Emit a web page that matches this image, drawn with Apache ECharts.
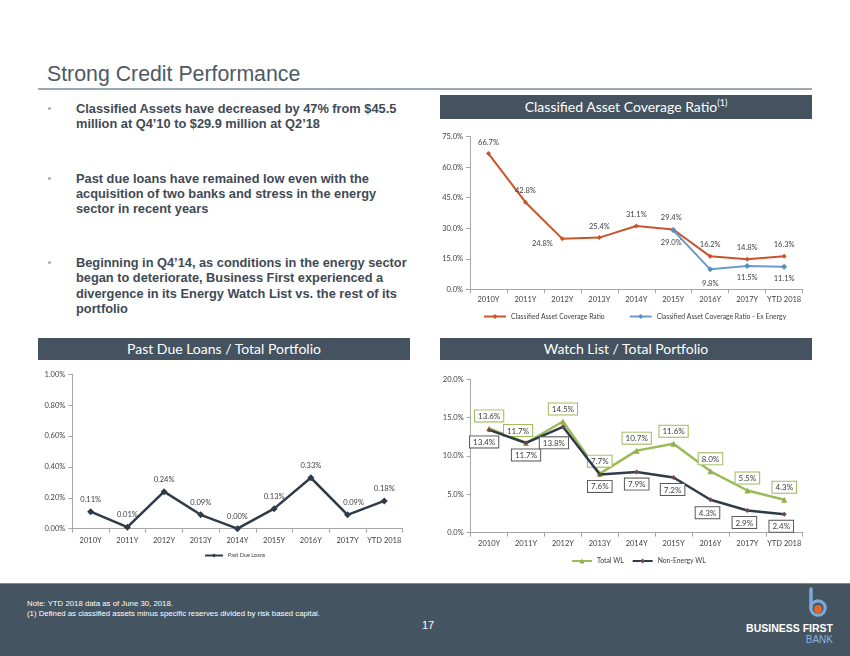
<!DOCTYPE html>
<html><head><meta charset="utf-8">
<script src="https://cdn.jsdelivr.net/npm/echarts@6/dist/echarts.min.js"></script>
<style>
html,body{margin:0;padding:0;width:850px;height:656px;overflow:hidden;background:#fff;font-family:'Liberation Sans',Arial,sans-serif}
.abs{position:absolute}
#title{left:47px;top:64px;font-size:21.3px;line-height:21px;color:#4d5a66;white-space:nowrap}
#rule{left:38px;top:88px;width:774px;height:2px;background:#98a9b6}
.bar{background:#44535f;color:#fff;font-family:Lato,sans-serif;font-size:14px;text-align:center;white-space:nowrap}
.bar sup{font-size:9px;vertical-align:6px;line-height:0}
.bl{font-weight:bold;font-size:12.8px;color:#3f4a55;line-height:15.3px;left:76px;white-space:nowrap}
.dot{left:48px;width:3px;height:3px;border-radius:50%;background:#a3aeb8}
#footer{left:0;top:583px;width:850px;height:73px;background:#455461;border-top:1px solid #7d8c98}
.note{left:27px;color:#fff;font-size:7.8px;line-height:9px;white-space:nowrap}
#page{left:418px;top:618px;width:20px;text-align:center;color:#fff;font-size:11px;line-height:14px}
#chart{left:0;top:0;width:850px;height:656px}
</style></head>
<body>
<div id="title" class="abs">Strong Credit Performance</div>
<div id="rule" class="abs"></div>

<div class="abs dot" style="top:106.5px"></div>
<div class="abs bl" style="top:100.8px">Classified Assets have decreased by 47% from $45.5<br>million at Q4’10 to $29.9 million at Q2’18</div>
<div class="abs dot" style="top:176.5px"></div>
<div class="abs bl" style="top:170.8px">Past due loans have remained low even with the<br>acquisition of two banks and stress in the energy<br>sector in recent years</div>
<div class="abs dot" style="top:261px"></div>
<div class="abs bl" style="top:255.2px">Beginning in Q4’14, as conditions in the energy sector<br>began to deteriorate, Business First experienced a<br>divergence in its Energy Watch List vs. the rest of its<br>portfolio</div>

<div class="abs bar" style="left:440px;top:95px;width:372px;height:24px;line-height:24px">Classified Asset Coverage Ratio<sup>(1)</sup></div>
<div class="abs bar" style="left:38px;top:338px;width:372px;height:22px;line-height:22px">Past Due Loans / Total Portfolio</div>
<div class="abs bar" style="left:440px;top:338px;width:372px;height:22px;line-height:22px">Watch List / Total Portfolio</div>

<div id="footer" class="abs"></div>
<div class="abs note" style="top:598.5px">Note: YTD 2018 data as of June 30, 2018.</div>
<div class="abs note" style="top:608.5px">(1) Defined as classified assets minus specific reserves divided by risk based capital.</div>
<div id="page" class="abs">17</div>
<svg class="abs" style="left:730px;top:583px" width="120" height="73" viewBox="0 0 120 73">
  <line x1="81" y1="6" x2="81" y2="25" stroke="#7ea9d6" stroke-width="3.5" stroke-linecap="round"/>
  <circle cx="88" cy="25" r="7.2" fill="none" stroke="#7ea9d6" stroke-width="3.2"/>
  <circle cx="88" cy="26" r="4" fill="#e8622c"/>
  <text x="103" y="49" text-anchor="end" font-family="Liberation Sans, Arial, sans-serif" font-weight="bold" font-size="10.5" fill="#fff">BUSINESS FIRST</text>
  <text x="103" y="59.5" text-anchor="end" font-family="Liberation Sans, Arial, sans-serif" font-size="10" fill="#8db5dd">BANK</text>
</svg>

<div id="chart" class="abs"></div>
<script>
// ---- data ----
const categories = ['2010Y','2011Y','2012Y','2013Y','2014Y','2015Y','2016Y','2017Y','YTD 2018'];
const coverageRatio = [66.7, 42.8, 24.8, 25.4, 31.1, 29.4, 16.2, 14.8, 16.3];
const coverageExEnergy = [null, null, null, null, null, 29.0, 9.8, 11.5, 11.1];
const pastDueLoans = [0.11, 0.01, 0.24, 0.09, 0.00, 0.13, 0.33, 0.09, 0.18];
const totalWL = [13.6, 11.7, 14.5, 7.7, 10.7, 11.6, 8.0, 5.5, 4.3];
const nonEnergyWL = [13.4, 11.7, 13.8, 7.6, 7.9, 7.2, 4.3, 2.9, 2.4];
const seriesNames = {
  cov: 'Classified Asset Coverage Ratio',
  covEx: 'Classified Asset Coverage Ratio - Ex Energy',
  pd: 'Past Due Loans',
  twl: 'Total WL',
  newl: 'Non-Energy WL'
};

// ---- label offsets (style only) ----
const covOffsets = [[0,0],[0,0],[-20,16.5],[0,0],[0,0],[-2,0],[0,0],[0,0],[0,0]];
const covExOffsets = [null,null,null,null,null,[-2,0],[0,2],[0,0],[0,0]];
const twlOffsets = [[0,0],[-8,0],[0,0],[0,0],[0,0],[0,0],[0,0],[0,0],[0,0]];
const newlOffsets = [[-5,0],[0,0],[-9,4],[0,0],[0,0],[-1,0],[-3,1],[-3,0],[-3,0]];
const pdOffsets = [[0,0],[0,0],[0,0],[0,0],[0,0],[0,0],[0,0],[6,0],[0,0]];

function items(vals, offs){
  return vals.map((v,i)=> v==null ? null : {value:v, label:{offset:(offs && offs[i]) || [0,0]}});
}
const pct = dec => p => Number(p.value).toFixed(dec) + '%';

const FONT = 'Lato, sans-serif';
const axisColor = '#a6a6a6';
function xAx(gi, margin){
  return {type:'category', gridIndex:gi, data:categories, boundaryGap:true,
    axisLine:{lineStyle:{color:axisColor, width:1}},
    axisTick:{show:true, length:4, lineStyle:{color:axisColor}},
    axisLabel:{interval:0, fontSize:7.5, color:'#404040', fontFamily:FONT, margin:margin}};
}
function yAx(gi, max, interval, dec){
  return {type:'value', gridIndex:gi, min:0, max:max, interval:interval,
    axisLine:{show:true, lineStyle:{color:axisColor, width:1}},
    axisTick:{show:true, length:4, lineStyle:{color:axisColor}},
    splitLine:{show:false},
    axisLabel:{fontSize:7.5, color:'#404040', fontFamily:FONT, margin:7,
      formatter: v => v.toFixed(dec) + '%'}};
}
const lblBase = {show:true, fontSize:7.5, fontFamily:FONT, color:'#404040'};

const chart = echarts.init(document.getElementById('chart'), null, {width:850, height:656});
chart.setOption({
  animation:false,
  backgroundColor:'transparent',
  grid:[
    {left:470, top:136.7, width:332.6, height:152.6},
    {left:72.3, top:374.3, width:330.3, height:154.4},
    {left:470.7, top:379.3, width:332, height:153.4}
  ],
  xAxis:[xAx(0,6), xAx(1,8), xAx(2,7)],
  yAxis:[yAx(0,75,15,1), yAx(1,1,0.2,2), yAx(2,20,5,1)],
  legend:[
    {data:[seriesNames.cov, seriesNames.covEx], left:478, top:308, itemWidth:22, itemHeight:6, itemGap:24,
      textStyle:{fontSize:6.8, fontFamily:FONT, color:'#404040'}},
    {data:[seriesNames.pd], left:199, top:547.5, itemWidth:18, itemHeight:5,
      textStyle:{fontSize:5.5, fontFamily:FONT, color:'#404040'}},
    {data:[seriesNames.twl, seriesNames.newl], left:566, top:552.5, itemWidth:20, itemHeight:6, itemGap:8,
      textStyle:{fontSize:6.8, fontFamily:FONT, color:'#404040'}}
  ],
  series:[
    {name:seriesNames.cov, type:'line', xAxisIndex:0, yAxisIndex:0, data:items(coverageRatio, covOffsets),
      symbol:'diamond', symbolSize:5, showAllSymbol:true,
      lineStyle:{color:'#c9542b', width:2}, itemStyle:{color:'#c9542b'},
      label:Object.assign({}, lblBase, {position:'top', distance:5, formatter:pct(1)})},
    {name:seriesNames.covEx, type:'line', xAxisIndex:0, yAxisIndex:0, data:items(coverageExEnergy, covExOffsets),
      symbol:'diamond', symbolSize:6, showAllSymbol:true, connectNulls:false,
      lineStyle:{color:'#6b9bd0', width:2}, itemStyle:{color:'#5b8cc4'},
      label:Object.assign({}, lblBase, {position:'bottom', distance:5, formatter:pct(1)})},
    {name:seriesNames.pd, type:'line', xAxisIndex:1, yAxisIndex:1, data:items(pastDueLoans, pdOffsets),
      symbol:'diamond', symbolSize:7, showAllSymbol:true,
      lineStyle:{color:'#2f3b47', width:2.5}, itemStyle:{color:'#2f3b47'},
      label:Object.assign({}, lblBase, {position:'top', distance:5, formatter:pct(2)})},
    {name:seriesNames.twl, type:'line', xAxisIndex:2, yAxisIndex:2, data:items(totalWL, twlOffsets),
      symbol:'triangle', symbolSize:6, showAllSymbol:true, z:3,
      lineStyle:{color:'#9bbb59', width:2.5}, itemStyle:{color:'#8fb04c'},
      label:Object.assign({}, lblBase, {position:'top', distance:4, backgroundColor:'#fff',
        borderColor:'#9bbb59', borderWidth:1, padding:[2,3,1,3], fontSize:8, formatter:pct(1)})},
    {name:seriesNames.newl, type:'line', xAxisIndex:2, yAxisIndex:2, data:items(nonEnergyWL, newlOffsets),
      symbol:'diamond', symbolSize:5, showAllSymbol:true, z:4,
      lineStyle:{color:'#2f3b48', width:2.5}, itemStyle:{color:'#6e4a50'},
      label:Object.assign({}, lblBase, {position:'bottom', distance:4, backgroundColor:'#fff',
        borderColor:'#595959', borderWidth:1, padding:[2,3,1,3], fontSize:8, formatter:pct(1)})}
  ]
});
</script>
</body></html>
